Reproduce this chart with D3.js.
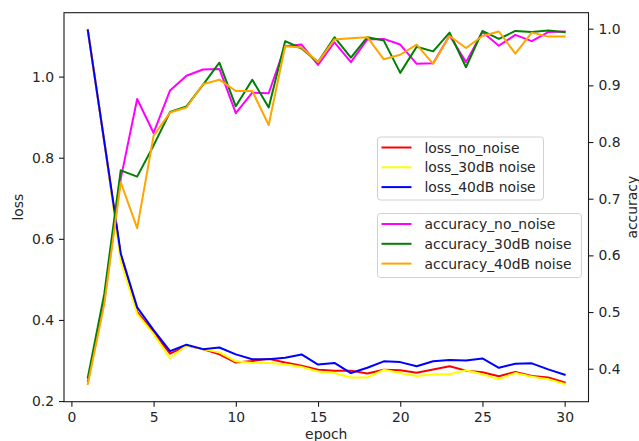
<!DOCTYPE html>
<html>
<head>
<meta charset="utf-8">
<script src="https://cdn.jsdelivr.net/npm/d3@7/dist/d3.min.js"></script>
<style>
  html, body { margin: 0; padding: 0; background: #fff; }
  svg { display: block; font-family: "DejaVu Sans", sans-serif; }
</style>
</head>
<body>
<svg id="chart" width="639" height="441"></svg>
<script>
const epochs = d3.range(1, 31);

const lossNoNoise = [1.114, 0.84, 0.56, 0.42, 0.37, 0.317, 0.337, 0.328, 0.315, 0.295, 0.299, 0.304, 0.295, 0.287, 0.277,
  0.275, 0.275, 0.268, 0.277, 0.276, 0.270, 0.278, 0.286, 0.275, 0.271, 0.261, 0.272, 0.262, 0.258, 0.246];
const loss30dB = [1.114, 0.84, 0.545, 0.415, 0.365, 0.305, 0.337, 0.328, 0.32, 0.298, 0.294, 0.294, 0.291, 0.284, 0.273,
  0.269, 0.258, 0.258, 0.277, 0.269, 0.262, 0.266, 0.266, 0.276, 0.266, 0.254, 0.269, 0.260, 0.254, 0.242];
const loss40dB = [1.114, 0.84, 0.564, 0.431, 0.375, 0.323, 0.339, 0.328, 0.332, 0.315, 0.303, 0.303, 0.307, 0.315, 0.290,
  0.294, 0.269, 0.282, 0.298, 0.296, 0.286, 0.298, 0.301, 0.300, 0.305, 0.282, 0.292, 0.293, 0.278, 0.265];

const accNoNoise = [0.378, 0.52, 0.735, 0.876, 0.816, 0.891, 0.917, 0.928, 0.929, 0.851, 0.887, 0.886, 0.969, 0.972, 0.936,
  0.976, 0.941, 0.981, 0.982, 0.972, 0.938, 0.939, 0.988, 0.941, 0.994, 0.970, 0.989, 0.978, 0.994, 0.995];
const acc30dB = [0.3845, 0.532, 0.75, 0.739, 0.794, 0.853, 0.863, 0.901, 0.94, 0.863, 0.91, 0.861, 0.978, 0.965, 0.941,
  0.985, 0.949, 0.985, 0.979, 0.922, 0.968, 0.960, 0.993, 0.932, 0.996, 0.982, 0.996, 0.994, 0.997, 0.994];
const acc40dB = [0.373, 0.514, 0.729, 0.648, 0.811, 0.852, 0.861, 0.902, 0.910, 0.890, 0.890, 0.830, 0.969, 0.967, 0.941,
  0.981, 0.983, 0.985, 0.946, 0.954, 0.972, 0.938, 0.987, 0.966, 0.987, 0.995, 0.956, 0.993, 0.986, 0.986];

const xTicks = [0, 5, 10, 15, 20, 25, 30];
const lossTicks = [0.2, 0.4, 0.6, 0.8, 1.0];
const accTicks = [0.4, 0.5, 0.6, 0.7, 0.8, 0.9, 1.0];

const lossSeries = [
  { name: "loss_no_noise", values: lossNoNoise, color: "#ff0000" },
  { name: "loss_30dB noise", values: loss30dB, color: "#ffff00" },
  { name: "loss_40dB noise", values: loss40dB, color: "#0000ff" }
];
const accSeries = [
  { name: "accuracy_no_noise", values: accNoNoise, color: "#ff00ff" },
  { name: "accuracy_30dB noise", values: acc30dB, color: "#008000" },
  { name: "accuracy_40dB noise", values: acc40dB, color: "#ffa500" }
];

const svg = d3.select("#chart");
const L = 64, R = 588.5, T = 12.7, B = 401.7;

function padded(ext) {
  const d = ext[1] - ext[0];
  return [ext[0] - 0.05 * d, ext[1] + 0.05 * d];
}

const x = d3.scaleLinear().domain(padded(d3.extent(epochs))).range([L, R]);
const yL = d3.scaleLinear().domain(padded(d3.extent(lossSeries.flatMap(s => s.values)))).range([B, T]);
const yR = d3.scaleLinear().domain(padded(d3.extent(accSeries.flatMap(s => s.values)))).range([B, T]);

const fmt1 = d3.format(".1f");

const lineL = d3.line().x((d, i) => x(epochs[i])).y(d => yL(d));
const lineR = d3.line().x((d, i) => x(epochs[i])).y(d => yR(d));

svg.append("g").selectAll("path").data(lossSeries).join("path")
  .attr("d", d => lineL(d.values))
  .attr("fill", "none").attr("stroke", d => d.color).attr("stroke-width", 2)
  .attr("stroke-linejoin", "round").attr("stroke-linecap", "square");

svg.append("g").selectAll("path").data(accSeries).join("path")
  .attr("d", d => lineR(d.values))
  .attr("fill", "none").attr("stroke", d => d.color).attr("stroke-width", 2)
  .attr("stroke-linejoin", "round").attr("stroke-linecap", "square");

// Frame
svg.append("rect").attr("x", L).attr("y", T).attr("width", R - L).attr("height", B - T)
  .attr("fill", "none").attr("stroke", "#1a1a1a").attr("stroke-width", 1.1);

function styleAxis(g) {
  g.select(".domain").remove();
  g.selectAll(".tick line").attr("stroke", "#1a1a1a").attr("stroke-width", 1.1);
  g.selectAll(".tick text").attr("fill", "#262626").attr("font-size", "13.9px")
    .attr("font-family", "DejaVu Sans, sans-serif");
}

svg.append("g").attr("transform", `translate(0,${B})`)
  .call(d3.axisBottom(x).tickValues(xTicks).tickFormat(d3.format("d")).tickSize(5).tickPadding(5))
  .call(styleAxis);

svg.append("g").attr("transform", `translate(${L},0)`)
  .call(d3.axisLeft(yL).tickValues(lossTicks).tickFormat(fmt1).tickSize(5).tickPadding(5))
  .call(styleAxis);

svg.append("g").attr("transform", `translate(${R},0)`)
  .call(d3.axisRight(yR).tickValues(accTicks).tickFormat(fmt1).tickSize(5).tickPadding(5))
  .call(styleAxis);

// Axis titles
svg.append("text").attr("transform", `translate(23,${(T + B) / 2}) rotate(-90)`)
  .attr("text-anchor", "middle").attr("font-size", "13.9px").attr("fill", "#262626").text("loss");
svg.append("text").attr("transform", `translate(637,${(T + B) / 2}) rotate(-90)`)
  .attr("text-anchor", "middle").attr("font-size", "13.9px").attr("fill", "#262626").text("accuracy");
svg.append("text").attr("x", (L + R) / 2).attr("y", 439)
  .attr("text-anchor", "middle").attr("font-size", "13.9px").attr("fill", "#262626").text("epoch");

// Legends
function legend(series, bx, by, bw, bh) {
  const g = svg.append("g");
  g.append("rect").attr("x", bx).attr("y", by).attr("width", bw).attr("height", bh)
    .attr("rx", 3).attr("fill", "#fff").attr("fill-opacity", 0.85)
    .attr("stroke", "#d0d0d0").attr("stroke-width", 1);
  series.forEach((s, i) => {
    const cy = by + 10.5 + i * 19.8;
    g.append("line").attr("x1", bx + 4).attr("x2", bx + 34).attr("y1", cy).attr("y2", cy)
      .attr("stroke", s.color).attr("stroke-width", 2);
    g.append("text").attr("x", bx + 47).attr("y", cy).attr("dy", "0.36em")
      .attr("font-size", "13.9px").attr("fill", "#262626").text(s.name);
  });
}
legend(lossSeries, 377.5, 137, 166, 63);
legend(accSeries, 377.5, 213.5, 204, 64);
</script>
</body>
</html>
